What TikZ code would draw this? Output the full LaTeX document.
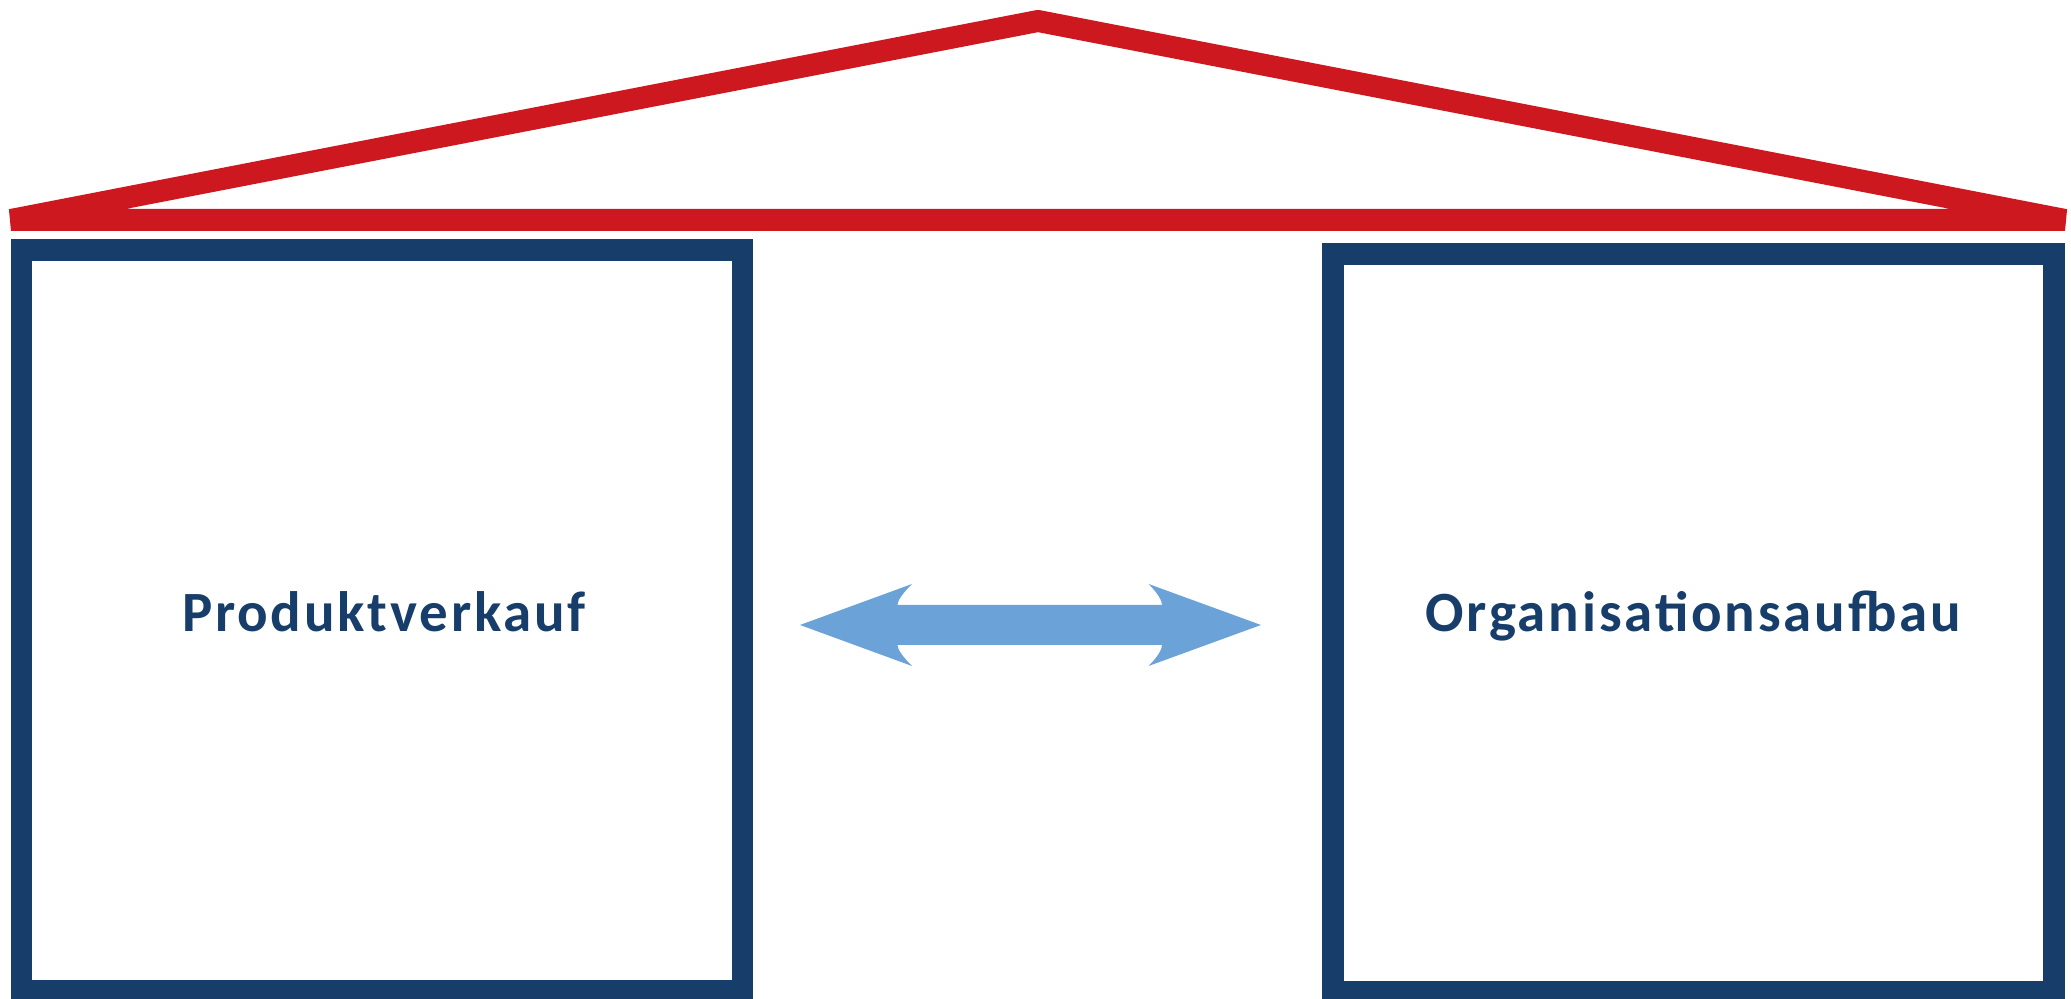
\documentclass[tikz,border=0pt]{standalone}
\usepackage{fontspec}
\setmainfont{Carlito}
\newfontfamily\kastenschrift[LetterSpace=5.0]{Carlito}
\usepackage{xcolor}
\definecolor{dachrot}{RGB}{204,24,30}
\definecolor{kastenblau}{RGB}{23,62,106}
\definecolor{pfeilblau}{RGB}{107,163,216}

\begin{document}
\begin{tikzpicture}[
	kasten/.style={draw=kastenblau, line width=0.215cm, minimum width=7.21cm, inner sep=0pt},
	beschriftung/.style={text=kastenblau, font=\kastenschrift\fontsize{16.2pt}{19pt}\selectfont\bfseries, anchor=base, inner sep=0pt}
	]
	\useasboundingbox (0,0) rectangle (20.71,9.99);
	% Dach (rot)
	\coordinate (dachlinks) at (0.11,7.79);
	\coordinate (first) at (10.38,9.78);
	\coordinate (dachrechts) at (20.65,7.79);
	\draw[dachrot, line width=0.22cm, line join=bevel] (dachlinks) -- (first) -- (dachrechts) -- cycle;
	% Linker Kasten
	\node[kasten, minimum height=7.405cm] (verkauf) at (3.82,3.7875) {};
	\node[beschriftung] (verkauftext) at (3.84,3.67) {Produktverkauf};
	% Rechter Kasten
	\node[kasten, minimum height=7.38cm] (aufbau) at (16.935,3.76) {};
	\node[beschriftung] (aufbautext) at (16.93,3.67) {Organisationsaufbau};
	% Doppelpfeil zwischen den Kästen
	\coordinate (pfeillinks) at (8.00,3.74);
	\coordinate (pfeilrechts) at (12.61,3.74);
	\fill[pfeilblau] (pfeillinks) -- (9.12,4.15)
		.. controls (9.02,4.05) and (8.975,3.98) .. (8.975,3.94)
		-- (11.62,3.94)
		.. controls (11.62,3.98) and (11.585,4.05) .. (11.486,4.15)
		-- (pfeilrechts) -- (11.486,3.33)
		.. controls (11.585,3.43) and (11.62,3.50) .. (11.62,3.54)
		-- (8.975,3.54)
		.. controls (8.975,3.50) and (9.02,3.43) .. (9.12,3.33)
		-- cycle;
\end{tikzpicture}
\end{document}
